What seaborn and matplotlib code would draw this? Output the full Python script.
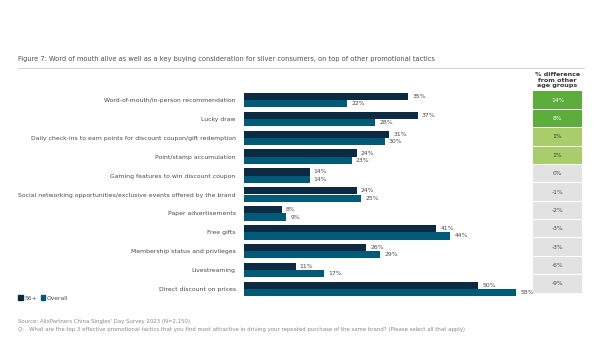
import matplotlib
matplotlib.use("Agg")
import matplotlib.pyplot as plt
import seaborn as sns
import pandas as pd
import numpy as np
from matplotlib.patches import Patch

categories = [
    "Word-of-mouth/in-person recommendation",
    "Lucky draw",
    "Daily check-ins to earn points for discount coupon/gift redemption",
    "Point/stamp accumulation",
    "Gaming features to win discount coupon",
    "Social networking opportunities/exclusive events offered by the brand",
    "Paper advertisements",
    "Free gifts",
    "Membership status and privileges",
    "Livestreaming",
    "Direct discount on prices",
]
senior = [35, 37, 31, 24, 14, 24, 8, 41, 26, 11, 50]
overall = [22, 28, 30, 23, 14, 25, 9, 44, 29, 17, 58]
diff = [14, 8, 1, 1, 0, -1, -2, -3, -3, -6, -9]
diff_labels = ["14%", "8%", "1%", "1%", "0%", "-1%", "-2%", "-3%", "-3%", "-6%", "-9%"]
series_names = ["56+", "Overall"]

title = "Figure 7: Word of mouth alive as well as a key buying consideration for silver consumers, on top of other promotional tactics"
source = "Source: AlixPartners China Singles' Day Survey 2023 (N=2,150)"
question = "Q:   What are the top 3 effective promotional tactics that you find most attractive in driving your repeated purchase of the same brand? (Please select all that apply)"

c_dark = "#0C2B43"
c_teal = "#005A78"
txt = "#4A4A4A"

df = pd.DataFrame({
    "cat": categories * 2,
    "val": senior + overall,
    "grp": [series_names[0]] * len(categories) + [series_names[1]] * len(categories),
})

sns.set_theme(style="white")
plt.rcParams["font.family"] = ["DejaVu Sans"]

W, H = 600, 338
fig = plt.figure(figsize=(6, 3.38), dpi=100)

def fx(px):
    return px / W

def fy(py):
    return 1 - py / H

# bar axes
top_px, bot_px = 90.5, 298.5
left_px = 244
px_per = 272 / 58
xmax = 60
ax = fig.add_axes([fx(left_px), fy(bot_px), fx(xmax * px_per), (bot_px - top_px) / H])
sns.barplot(data=df, y="cat", x="val", hue="grp", orient="h",
            palette=[c_dark, c_teal], width=0.76, ax=ax, legend=False,
            saturation=1, linewidth=0)
ax.set_xlim(0, xmax)
ax.set_ylim(len(categories) - 0.5, -0.5)
ax.set_xlabel("")
ax.set_ylabel("")
ax.set_xticks([])
ax.tick_params(axis="y", length=0, pad=6, labelsize=4.45, labelcolor=txt)
for s in ax.spines.values():
    s.set_visible(False)
for cont in ax.containers:
    ax.bar_label(cont, labels=[f"{int(v)}%" for v in cont.datavalues],
                 padding=3, fontsize=4.4, color=txt)

# table axes
tab_left, tab_right = 533, 582
t_top, t_bot = 91, 293
tax = fig.add_axes([fx(tab_left), fy(t_bot), fx(tab_right - tab_left), (t_bot - t_top) / H])
cell_colors = []
text_colors = []
for d in diff:
    if d >= 5:
        cell_colors.append("#5DAD3D"); text_colors.append("white")
    elif d >= 1:
        cell_colors.append("#A9CD6B"); text_colors.append("#3A3A3A")
    else:
        cell_colors.append("#E2E2E2"); text_colors.append("#4A4A4A")
ypos = np.arange(len(diff))
tax.barh(ypos, [1] * len(diff), height=0.95, left=0, color=cell_colors, linewidth=0)
for y, lab, tc in zip(ypos, diff_labels, text_colors):
    tax.text(0.5, y, lab, ha="center", va="center", fontsize=4.3, color=tc)
tax.set_xlim(0, 1)
tax.set_ylim(len(diff) - 0.5, -0.5)
tax.axis("off")

fig.text(fx(557.5), fy(80), "% difference\nfrom other\nage groups", ha="center", va="center",
         fontsize=4.6, fontweight="bold", color="#3A3A3A", linespacing=1.05)

# title and rule
fig.text(fx(18), fy(59), title, ha="left", va="center", fontsize=4.75, color="#505050")
fig.add_artist(plt.Line2D([fx(18), fx(584)], [fy(68), fy(68)], color="#C8C8C8", lw=0.6))

# legend
handles = [Patch(color=c_dark, label=series_names[0]), Patch(color=c_teal, label=series_names[1])]
fig.legend(handles=handles, loc="center left", bbox_to_anchor=(fx(13), fy(298)), ncol=2,
           frameon=False, fontsize=4.3, handlelength=0.7, handleheight=0.7,
           handletextpad=0.3, columnspacing=0.6, labelcolor=txt)

# source
fig.text(fx(18), fy(322), source, ha="left", va="center", fontsize=3.85, color="#8A8A8A")
fig.text(fx(18), fy(330), question, ha="left", va="center", fontsize=3.85, color="#8A8A8A")

fig.savefig("out.png", dpi=100)
